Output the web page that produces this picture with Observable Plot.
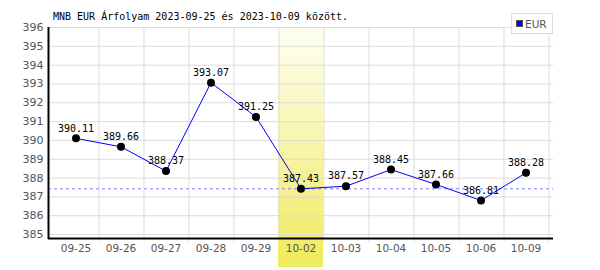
<!DOCTYPE html>
<html><head><meta charset="utf-8">
<script src="https://cdn.jsdelivr.net/npm/d3@7"></script>
<script src="https://cdn.jsdelivr.net/npm/@observablehq/plot@0.6"></script>
<style>body{margin:0;background:#fff}svg{display:block}</style>
</head><body><div id="chart"></div>
<script>
const dates = ["09-25","09-26","09-27","09-28","09-29","10-02","10-03","10-04","10-05","10-06","10-09"];
const rates = [390.11, 389.66, 388.37, 393.07, 391.25, 387.43, 387.57, 388.45, 387.66, 386.81, 388.28];
const yTicks = [385,386,387,388,389,390,391,392,393,394,395,396];
const highlightDate = "10-02";
const refValue = 387.43;
const titleText = "MNB EUR Árfolyam 2023-09-25 és 2023-10-09 között.";
const seriesName = "EUR";

const data = dates.map((d, i) => ({date: d, rate: rates[i]}));
const W = 600, H = 270, mL = 48, mR = 47, mT = 27, mB = 32;
const bw = (W - mL - mR) / dates.length;
const mono = "'DejaVu Sans Mono', monospace";

const gradDefs = () => {
  const g = d3.create("svg:defs");
  const lg = g.append("linearGradient").attr("id", "hl").attr("x1", 0).attr("y1", 0).attr("x2", 0).attr("y2", 1);
  lg.append("stop").attr("offset", "0%").attr("stop-color", "#fffff4");
  lg.append("stop").attr("offset", "100%").attr("stop-color", "#f0ea5c");
  return g.node();
};

const chart = Plot.plot({
  width: W, height: H,
  marginLeft: mL, marginRight: mR, marginTop: mT, marginBottom: mB,
  style: {fontFamily: mono, fontSize: "10px", background: "#fff", overflow: "visible"},
  x: {type: "band", domain: dates, padding: 0, axis: null},
  y: {domain: [384.79, 396], axis: null},
  marks: [
    gradDefs,
    Plot.barY([highlightDate], {x: d => d, y1: 383.25, y2: 396, fill: "url(#hl)", clip: false}),
    Plot.ruleY(yTicks, {y: d => d, stroke: "#dcdcdc", strokeWidth: 1}),
    Plot.ruleX(dates, {x: d => d, dx: bw / 2, y1: 396, y2: 384.6, stroke: "#dcdcdc", strokeWidth: 1}),
    Plot.ruleY([refValue], {y: d => d, stroke: "#7f7fff", strokeDasharray: "3,3", strokeWidth: 1}),
    Plot.axisY(yTicks, {tickSize: 0, tickPadding: 5, fill: "#555", fontSize: 11, fontFamily: "'DejaVu Sans', sans-serif", tickFormat: d => String(d), label: null}),
    Plot.axisX(dates, {tickSize: 0, tickPadding: 6, fill: "#555", fontSize: 10.5, fontFamily: "'DejaVu Sans', sans-serif", label: null}),
    Plot.line(data, {x: "date", y: "rate", stroke: "#0000ff", strokeWidth: 1}),
    Plot.dot(data, {x: "date", y: "rate", r: 4, fill: "#000", stroke: "none"}),
    Plot.text(data, {x: "date", y: "rate", text: d => d.rate.toFixed(2), dy: -10, fill: "#000", fontSize: 10, fontFamily: mono, lineAnchor: "middle"})
  ]
});

const svg = d3.select(chart);
// axis lines
svg.append("line").attr("x1", mL + 0.5).attr("x2", mL + 0.5).attr("y1", mT).attr("y2", H - mB + 1).attr("stroke", "#000").attr("stroke-width", 2);
svg.append("line").attr("x1", mL).attr("x2", W - mR).attr("y1", H - mB + 0.5).attr("y2", H - mB + 0.5).attr("stroke", "#000").attr("stroke-width", 2);
// title
svg.append("text").attr("x", 53).attr("y", 20).attr("text-anchor", "start").attr("fill", "#000").attr("font-family", mono).attr("font-size", 10).text(titleText);
// legend
const lg = svg.append("g");
lg.append("rect").attr("x", 511.5).attr("y", 13.5).attr("width", 41).attr("height", 20).attr("fill", "#fff").attr("stroke", "#dcdcdc");
lg.append("rect").attr("x", 516.5).attr("y", 20.5).attr("width", 6).attr("height", 6).attr("fill", "#0000ff").attr("stroke", "#555");
lg.append("text").attr("x", 525).attr("y", 27.5).attr("text-anchor", "start").attr("fill", "#555").attr("font-family", "'DejaVu Sans', sans-serif").attr("font-size", 10.5).text(seriesName);
document.getElementById("chart").append(chart);
</script></body></html>
